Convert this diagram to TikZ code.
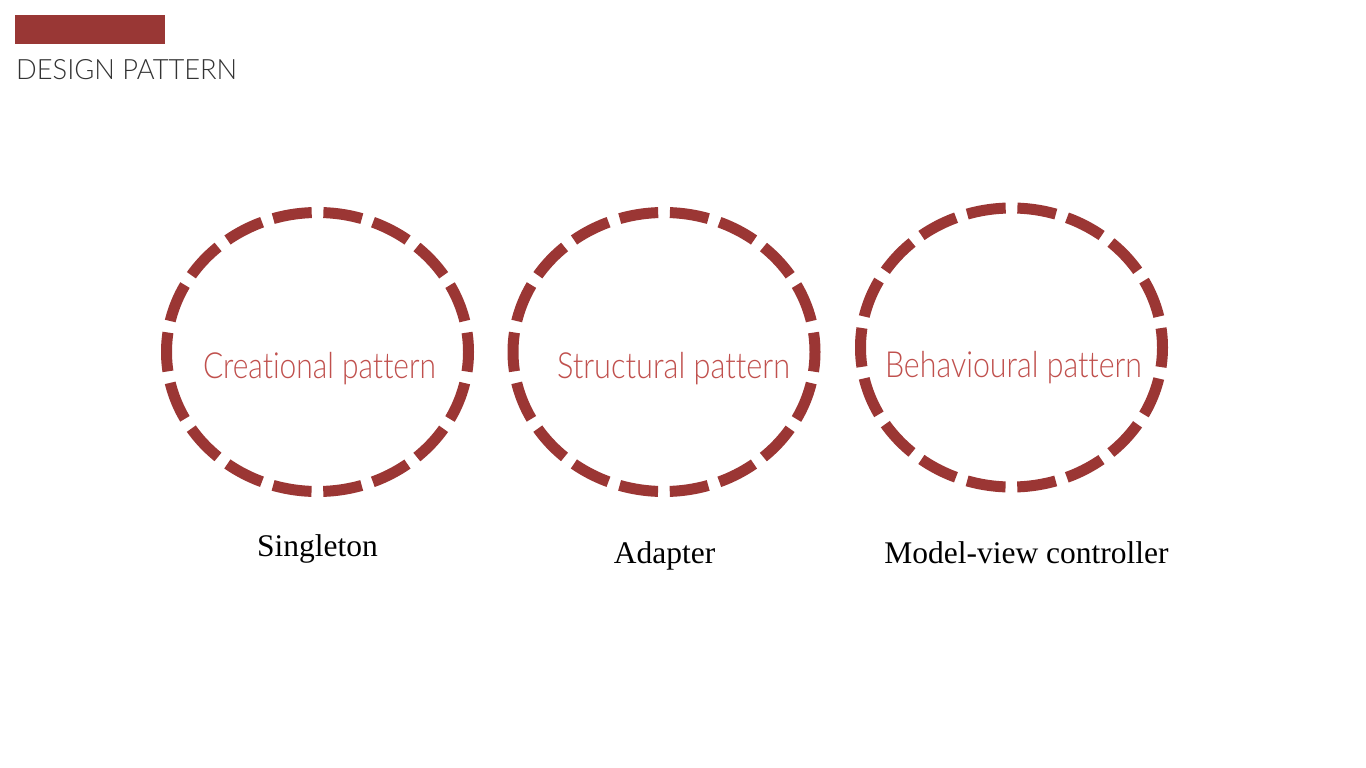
\documentclass[tikz,border=0pt]{standalone}
\usepackage{fontspec}
\usepackage{graphicx}
\setmainfont{Liberation Serif}
\newfontfamily\thinf[Ligatures=NoCommon]{Lato Light}
\usetikzlibrary{shapes.geometric}
\definecolor{barred}{HTML}{993735}
\definecolor{ringred}{HTML}{9B3634}
\definecolor{lblred}{HTML}{C0504D}
\definecolor{titlegray}{HTML}{333333}
\tikzset{
  ring/.style={ellipse, draw=ringred, line width=11pt, minimum width=302pt, minimum height=279pt,
    inner sep=0pt, dash pattern=on 39pt off 11.72pt, dash phase=19.5pt},
  inlbl/.style={anchor=base, inner sep=0pt, text=lblred},
  sublbl/.style={anchor=base, inner sep=0pt, text=black, font=\fontsize{31.5}{33}\selectfont},
}
\begin{document}
\begin{tikzpicture}[x=1pt,y=-1pt]
\useasboundingbox (0,0) rectangle (1366,768);
\fill[white] (0,0) rectangle (1366,768);
\fill[barred] (15,15) rectangle (165,44.5);
\node[anchor=base west, inner sep=0pt, text=titlegray] (title) at (16,80)
  {\resizebox{221pt}{\height}{\thinf\fontsize{28}{30}\selectfont DESIGN PATTERN}};

\node[ring] (c1) at (317.5,352) {};
\node[ring] (c2) at (664,352) {};
\node[ring] (c3) at (1011.5,347.5) {};

\node[inlbl] (l1) at (319.5,378) {\resizebox{233pt}{\height}{\thinf\fontsize{36}{38}\selectfont Creational pattern}};
\node[inlbl] (l2) at (673.5,378) {\resizebox{233pt}{\height}{\thinf\fontsize{36}{38}\selectfont Structural pattern}};
\node[inlbl] (l3) at (1013.5,377) {\resizebox{257pt}{\height}{\thinf\fontsize{36}{38}\selectfont Behavioural pattern}};

\node[sublbl] (s1) at (317.5,556) {Singleton};
\node[sublbl] (s2) at (664.5,563) {Adapter};
\node[sublbl] (s3) at (1026.5,563) {Model-view controller};
\end{tikzpicture}
\end{document}
